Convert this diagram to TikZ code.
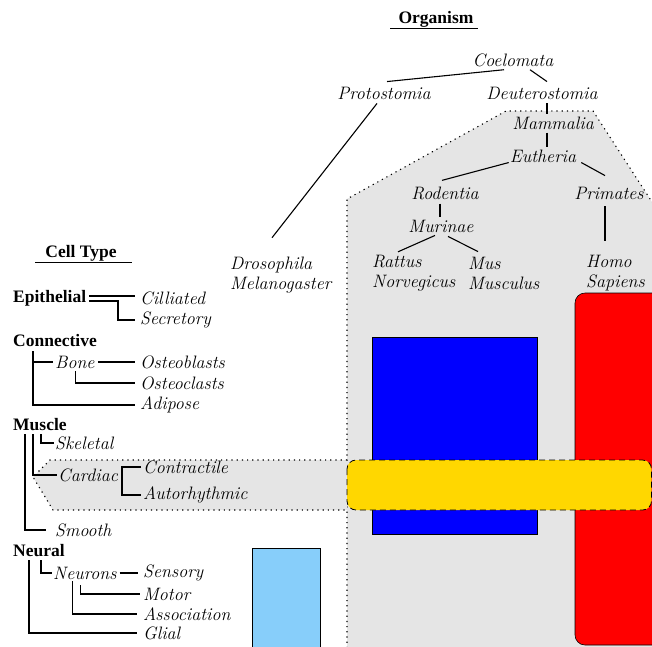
\documentclass[tikz,border=0pt]{standalone}
\usepackage{fontspec}
\newfontfamily\hdfont{Liberation Serif}
\definecolor{gold}{RGB}{255,215,0}
\definecolor{skyblue}{RGB}{135,206,250}
\begin{document}
\begin{tikzpicture}[x=1pt,y=-1pt,
        lbl/.style={font=\fontsize{18}{20}\selectfont\itshape,inner sep=0pt,align=left},
        hd/.style={font=\hdfont\fontsize{17.5}{20}\selectfont\bfseries,inner sep=0pt},
        twig/.style={line width=1.1pt},
        shade/.style={fill=gray!20,dash pattern=on 1.2pt off 4pt,line width=1.1pt}]
    \useasboundingbox (0,0) rectangle (652,646);
    \clip (0,0) rectangle (652,646);
    \filldraw[shade] (347,700) -- (347,199) -- (506,111) -- (593,111) -- (700,276) -- (700,700) -- cycle;
    \filldraw[shade] (347,460) -- (50,460) -- (33,477) -- (53,510) -- (347,510);
    \filldraw[fill=blue,line width=0.6pt] (372,337) rectangle (537,534);
    \filldraw[fill=red,line width=0.6pt,rounded corners=10pt] (575,293) rectangle (690,645);
    \filldraw[fill=gold,line width=0.8pt,dash pattern=on 6pt off 4pt,rounded corners=9pt] (347,460) rectangle (651.5,510);
    \filldraw[fill=skyblue,line width=0.6pt] (252,548) rectangle (320,680);

    \node[hd] (organism) at (436,19) {Organism};
    \draw[twig] ([xshift=-8pt,yshift=-1pt]organism.south west) -- ([xshift=4pt,yshift=-1pt]organism.south east);
    \node[lbl] (coel) at (513,60) {Coelomata};
    \node[lbl] (proto) at (384,93) {Protostomia};
    \node[lbl] (deut) at (542,93) {Deuterostomia};
    \node[lbl] (mamm) at (553,123) {Mammalia};
    \node[lbl] (euth) at (543,156) {Eutheria};
    \node[lbl] (rod) at (445,193) {Rodentia};
    \node[lbl] (prim) at (609,193) {Primates};
    \node[lbl] (mur) at (441,226) {Murinae};
    \node[lbl,anchor=west] (rattus) at (372,273) {Rattus\\Norvegicus};
    \node[lbl,anchor=west] (mus) at (468,273) {Mus\\Musculus};
    \node[lbl,anchor=west] (homo) at (586,273) {Homo\\Sapiens};
    \node[lbl,anchor=west] (dros) at (230,275) {Drosophila\\Melanogaster};

    \draw[twig] ([xshift=-9pt,yshift=-3pt]coel.south) -- ([xshift=3pt,yshift=5pt]proto.north);
    \draw[twig] ([xshift=17pt,yshift=-3pt]coel.south) -- ([xshift=5pt,yshift=5pt]deut.north);
    \draw[twig] ([xshift=-7pt,yshift=-4pt]proto.south) -- ([xshift=42pt,yshift=19pt]dros.north west);
    \draw[twig] ([xshift=5pt,yshift=-4pt]deut.south) -- ([xshift=5pt,yshift=2pt]deut.south |- mamm.north);
    \draw[twig] ([xshift=-6pt,yshift=-3pt]mamm.south) -- ([xshift=-6pt,yshift=2pt]mamm.south |- euth.north);
    \draw[twig] ([xshift=-1pt]euth.south west) -- ([xshift=-3pt,yshift=6pt]rod.north);
    \draw[twig] ([xshift=5pt]euth.south east) -- ([xshift=-4pt,yshift=11pt]prim.north);
    \draw[twig] ([xshift=-5pt,yshift=-4pt]rod.south) -- ([xshift=-5pt,yshift=3pt]rod.south |- mur.north);
    \draw[twig] ([xshift=-4pt,yshift=-7pt]prim.south) -- ([xshift=-4pt,yshift=14pt]prim.south |- homo.north);
    \draw[twig] ([xshift=-6pt,yshift=-3pt]mur.south) -- ([xshift=26pt,yshift=3pt]rattus.north west);
    \draw[twig] ([xshift=7pt,yshift=-4pt]mur.south) -- ([xshift=10pt,yshift=5pt]mus.north west);

    \node[hd] (celltype) at (81,253) {Cell Type};
    \draw[twig] ([xshift=-10pt,yshift=-1.5pt]celltype.south west) -- ([xshift=15pt,yshift=-1.5pt]celltype.south east);
    \node[hd,anchor=west] (epi) at (13,298) {Epithelial};
    \node[lbl,anchor=west] (cil) at (140,298) {Cilliated};
    \node[lbl,anchor=west] (sec) at (140,320) {Secretory};
    \node[hd,anchor=west] (conn) at (13,341) {Connective};
    \node[lbl,anchor=west] (bone) at (55,362) {Bone};
    \node[lbl,anchor=west] (oblast) at (140,362) {Osteoblasts};
    \node[lbl,anchor=west] (oclast) at (140,383) {Osteoclasts};
    \node[lbl,anchor=west] (adip) at (140,405) {Adipose};
    \node[hd,anchor=west] (musc) at (13,425) {Muscle};
    \node[lbl,anchor=west] (skel) at (55,443) {Skeletal};
    \node[lbl,anchor=west] (card) at (58,475) {Cardiac};
    \node[lbl,anchor=west] (contr) at (143,467) {Contractile};
    \node[lbl,anchor=west] (auto) at (143,495) {Autorhythmic};
    \node[lbl,anchor=west] (smooth) at (55,530) {Smooth};
    \node[hd,anchor=west] (neur) at (13,551) {Neural};
    \node[lbl,anchor=west] (neurons) at (53,573) {Neurons};
    \node[lbl,anchor=west] (sens) at (143,573) {Sensory};
    \node[lbl,anchor=west] (motor) at (143,594) {Motor};
    \node[lbl,anchor=west] (assoc) at (143,614) {Association};
    \node[lbl,anchor=west] (glial) at (143,633) {Glial};

    \draw[twig] ([xshift=3pt,yshift=2pt]epi.east) -- ([xshift=-5pt,yshift=2pt]cil.west);
    \draw[twig] ([xshift=3pt,yshift=-3pt]epi.east) -| ([xshift=-22pt]sec.west) -- ([xshift=-5pt]sec.west);
    \draw[twig] ([xshift=20pt,yshift=-4pt]conn.south west) |- ([xshift=-5pt]adip.west);
    \draw[twig] ([xshift=20pt,yshift=-4pt]conn.south west) |- ([xshift=-2pt]bone.west);
    \draw[twig] ([xshift=3pt]bone.east) -- ([xshift=-5pt]oblast.west);
    \draw[twig] ([xshift=1pt,yshift=-3pt]bone.south) |- ([xshift=-5pt]oclast.west);
    \draw[twig] ([xshift=12pt,yshift=-3pt]musc.south west) |- ([xshift=-9pt]smooth.west);
    \draw[twig] ([xshift=20pt,yshift=-3pt]musc.south west) |- ([xshift=-1pt]card.west);
    \draw[twig] ([xshift=28pt,yshift=-3pt]musc.south west) |- ([xshift=-1pt]skel.west);
    \draw[twig] ([xshift=-2pt]contr.west) -| ([xshift=4pt]card.east) |- ([xshift=-2pt]auto.west);
    \draw[twig] ([xshift=16pt,yshift=-3pt]neur.south west) |- ([xshift=-6pt]glial.west);
    \draw[twig] ([xshift=28pt,yshift=-3pt]neur.south west) |- ([xshift=-1pt]neurons.west);
    \draw[twig] ([xshift=3pt]neurons.east) -- ([xshift=-5pt]sens.west);
    \draw[twig] ([xshift=-12pt,yshift=-2pt]neurons.south) |- ([xshift=-6pt]assoc.west);
    \draw[twig] ([xshift=-4pt,yshift=-6pt]neurons.south) |- ([xshift=-3pt]motor.west);
\end{tikzpicture}
\end{document}
